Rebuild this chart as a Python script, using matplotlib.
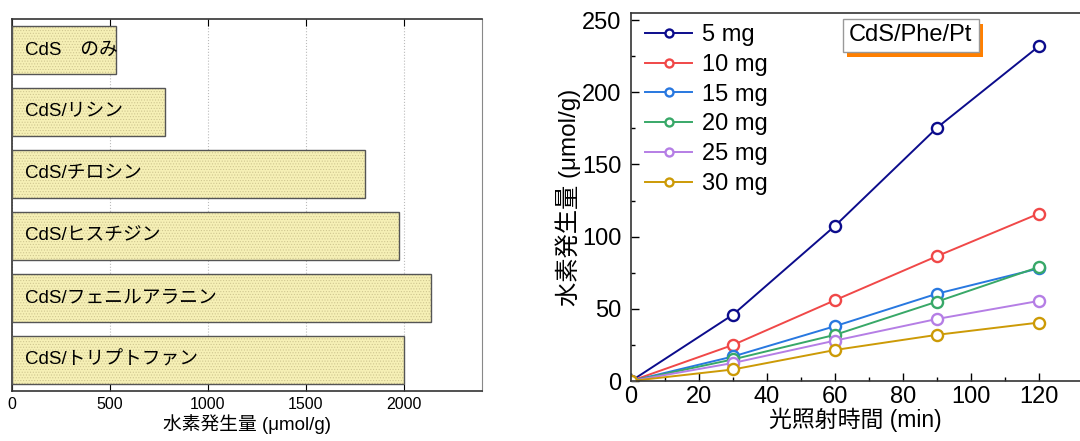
import numpy as np
from matplotlib import pyplot as plt
from matplotlib.patches import Rectangle

plt.rcParams['font.family'] = ['Liberation Sans', 'Noto Sans CJK JP', 'DejaVu Sans']
plt.rcParams['hatch.linewidth'] = 0.5

# left panel data
samples = ["CdS\u3000のみ", "CdS/リシン", "CdS/チロシン", "CdS/ヒスチジン",
           "CdS/フェニルアラニン", "CdS/トリプトファン"]
h2_amount = [530, 780, 1800, 1975, 2140, 2000]

# right panel data
time_min = [0, 30, 60, 90, 120]
doses = ["5 mg", "10 mg", "15 mg", "20 mg", "25 mg", "30 mg"]
h2_5mg = [0, 46, 107.5, 175.5, 232]
h2_10mg = [0, 25, 56, 86.5, 116]
h2_15mg = [0, 17, 38, 60.5, 78]
h2_20mg = [0, 15, 32, 55, 79]
h2_25mg = [0, 12.5, 28, 43, 55.5]
h2_30mg = [0, 8, 21.5, 32, 40.5]
series = [h2_5mg, h2_10mg, h2_15mg, h2_20mg, h2_25mg, h2_30mg]
colors = ['#0c0c8c', '#f04848', '#2878e0', '#38a868', '#b57ee5', '#cc9a06']

fig = plt.figure(figsize=(10.8, 4.41), dpi=100)

# ---- left: horizontal bars ----
ax1 = fig.add_axes([0.0111, 0.1134, 0.4352, 0.8435])
ypos = np.arange(len(samples))[::-1]
ax1.barh(ypos, h2_amount, height=0.79, color='#f6f0b6', hatch='......',
         edgecolor='#cfc690', linewidth=0, zorder=2)
ax1.barh(ypos, h2_amount, height=0.79, fill=False, edgecolor='#555555',
         linewidth=1.0, zorder=3)
for y, lab in zip(ypos, samples):
    ax1.text(65, y, lab, va='center', ha='left', fontsize=13.5, zorder=4)
ax1.set_xlim(0, 2400)
ax1.set_ylim(-0.5, 5.5)
ax1.set_xticks([0, 500, 1000, 1500, 2000])
ax1.set_yticks([])
ax1.tick_params(axis='x', direction='in', top=True, length=5, labelsize=11.5, pad=4)
ax1.grid(axis='x', linestyle=':', color='#bbbbbb', linewidth=0.8, zorder=0)
ax1.set_axisbelow(True)
for s in ['left', 'bottom', 'top']:
    ax1.spines[s].set_color('#333333')
    ax1.spines[s].set_linewidth(1.2)
ax1.spines['right'].set_color('#888888')
ax1.set_xlabel("水素発生量 (μmol/g)", fontsize=13.5, labelpad=2)

# ---- right: line chart ----
ax2 = fig.add_axes([0.5843, 0.136, 0.4157, 0.835])
for vals, lab, c in zip(series, doses, colors):
    ax2.plot(time_min, vals, '-o', color=c, label=lab, linewidth=1.4,
             markersize=8, markerfacecolor='white', markeredgewidth=1.7)
ax2.set_xlim(0, 132)
ax2.set_ylim(0, 255)
ax2.set_xticks(range(0, 121, 20))
ax2.set_xticks(range(10, 121, 20), minor=True)
ax2.set_yticks(range(0, 251, 50))
ax2.set_yticks(range(25, 251, 50), minor=True)
ax2.tick_params(which='major', direction='in', length=6, width=1.0, labelsize=17)
ax2.tick_params(axis='y', which='major', pad=7)
ax2.tick_params(which='minor', direction='in', length=3, width=1.0)
ax2.spines['right'].set_visible(False)
for s in ['left', 'bottom', 'top']:
    ax2.spines[s].set_color('#333333')
    ax2.spines[s].set_linewidth(1.2)
ax2.set_xlabel("光照射時間 (min)", fontsize=16.5, labelpad=0)
ax2.set_ylabel("水素発生量 (μmol/g)", fontsize=17.5, labelpad=1)
ax2.legend(loc='upper left', frameon=False, fontsize=17, handlelength=2.0,
           handletextpad=0.4, labelspacing=0.33, markerscale=0.72,
           borderaxespad=0.0, bbox_to_anchor=(0.01, 0.995))

# title box with orange shadow
bx0, bx1, by0, by1 = 0.4715, 0.7744, 0.894, 0.983
ax2.add_patch(Rectangle((bx0 + 0.01, by0 - 0.0136), bx1 - bx0, by1 - by0,
                        transform=ax2.transAxes, fc='#ff7f00', ec='none', zorder=5))
ax2.add_patch(Rectangle((bx0, by0), bx1 - bx0, by1 - by0, transform=ax2.transAxes,
                        fc='white', ec='#999999', lw=1.0, zorder=6))
ax2.text((bx0 + bx1) / 2, (by0 + by1) / 2, "CdS/Phe/Pt", transform=ax2.transAxes,
         ha='center', va='center', fontsize=17, zorder=7)

fig.savefig("out.png", dpi=100)
